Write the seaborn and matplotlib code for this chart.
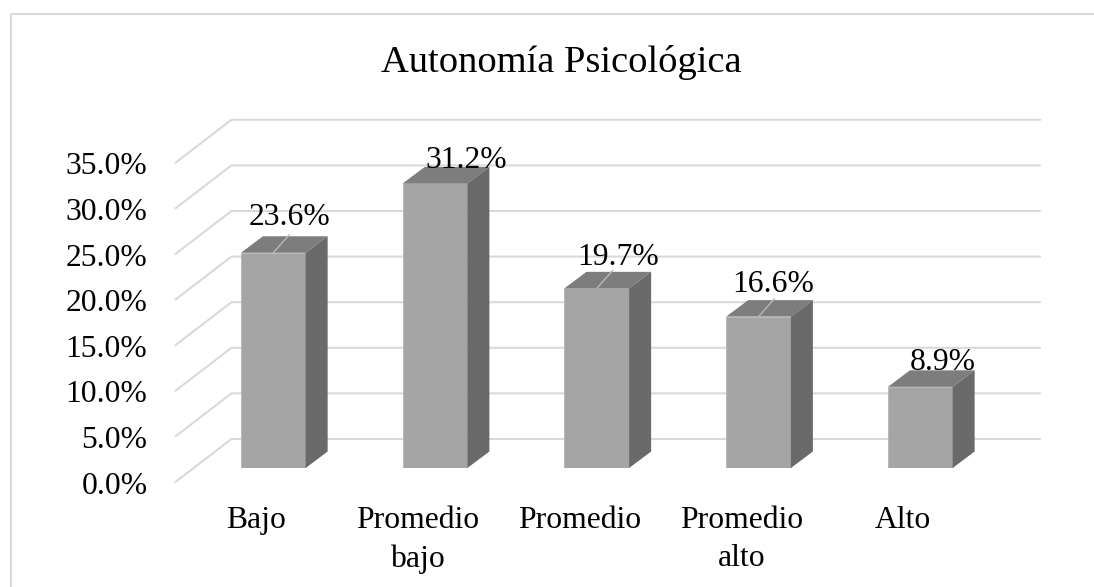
import numpy as np
import matplotlib.pyplot as plt
import matplotlib.patches as mpatches
import pandas as pd
import seaborn as sns

categorias = ["Bajo", "Promedio\nbajo", "Promedio", "Promedio\nalto", "Alto"]
valores = [23.6, 31.2, 19.7, 16.6, 8.9]
ticks = [0, 5, 10, 15, 20, 25, 30, 35]
tick_labels = ["0.0%", "5.0%", "10.0%", "15.0%", "20.0%", "25.0%", "30.0%", "35.0%"]

W, H = 1094, 587
sns.set_theme(style="white")
plt.rcParams['font.family'] = ['Liberation Serif', 'DejaVu Serif']

fig = plt.figure(figsize=(W / 100, H / 100), dpi=100)

# ejes = plano frontal de las barras, en pixeles de la figura
paso = 161.75
y0 = 468.0
px_y = 9.12
left = 273.3 - paso * 0.5
ax = fig.add_axes([left / W, (H - y0) / H, 5 * paso / W, 40 * px_y / H])
ax.patch.set_alpha(0)

df = pd.DataFrame({"cat": categorias, "val": valores})
sns.barplot(data=df, x="cat", y="val", color="#a5a5a5", saturation=1, width=0.4, ax=ax, zorder=5,
            edgecolor="#b4b4b4", linewidth=0.6)
ax.set_xlim(-0.5, 4.5)
ax.set_ylim(0, 40)
sns.despine(ax=ax, left=True, bottom=True)
ax.set_xticks([])
ax.set_yticks([])
ax.set_xlabel("")
ax.set_ylabel("")

dxu = 1 / paso
dyu = 1 / px_y


def off(x, y, dx, dy):
    return x + dx * dxu, y + dy * dyu


# reja: pared del fondo y piso lateral
grid = "#d9d9d9"
x_l = -0.5 - 17 * dxu
for t in ticks:
    xa, ya = off(x_l, t, 0, -14)
    xb, yb = off(x_l, t, 56, 29)
    xc, yc = off(x_l + 5, t, 56, 29)
    ax.plot([xa, xb, xc], [ya, yb, yc], color=grid, lw=1.5, clip_on=False, zorder=1,
            solid_joinstyle="miter")

# caras de las barras
for i, v in enumerate(valores):
    a, b = i - 0.2, i + 0.2
    top = [(a, v), (b, v), off(b, v, 22, 16.5), off(a, v, 22, 16.5)]
    side = [(b, 0), (b, v), off(b, v, 22, 16.5), off(b, 0, 22, 16.5)]
    ax.add_patch(mpatches.Polygon(top, closed=True, fc="#7d7d7d", ec="none", clip_on=False, zorder=6))
    ax.add_patch(mpatches.Polygon(side, closed=True, fc="#6a6a6a", ec="none", clip_on=False, zorder=6))

# etiquetas de datos
etq_dx = [16, 31, 21, 15, 22]
etq_dy = [35, 23, 31, 32, 24]
for i, v in enumerate(valores):
    xt, yt = off(i, v, etq_dx[i], etq_dy[i])
    ax.text(xt, yt, f"{v:.1f}%", ha="center", va="center", fontsize=22.8, color="black",
            clip_on=False, zorder=8)
    if i in (0, 2, 3):
        xa, ya = off(i, v, 0, 0)
        xb, yb = off(i, v, 16, 18)
        ax.plot([xa, xb], [ya, yb], color="#b8b8b8", lw=1, clip_on=False, zorder=7)

# etiquetas de los ejes
for t, lab in zip(ticks, tick_labels):
    xt, yt = off(x_l, t, -28, -18)
    ax.text(xt, yt, lab, ha="right", va="center", fontsize=22.8, color="black", clip_on=False)
for i, c in enumerate(categorias):
    xt, yt = off(i, 0, -17, -38)
    ax.text(xt, yt, c, ha="center", va="top", fontsize=22.8, color="black", clip_on=False,
            linespacing=1.42)

fig.text(561 / W, 1 - 63 / H, "Autonomía Psicológica", ha="center", va="center", fontsize=27.7, color="black")

# marco del grafico
fig.add_artist(plt.Line2D([11 / W, 11 / W, 1], [0, 1 - 14 / H, 1 - 14 / H], color="#d9d9d9", lw=1.5))

fig.savefig("out.png", dpi=100)
